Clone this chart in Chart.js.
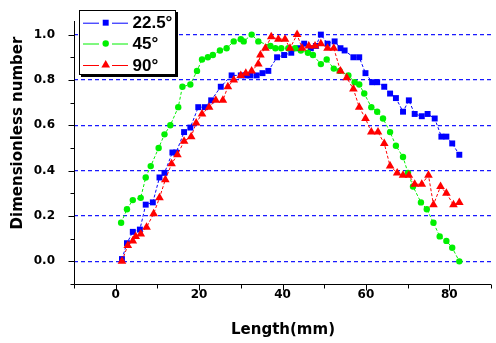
<!DOCTYPE html>
<html>
<head>
<meta charset="utf-8">
<script src="https://cdn.jsdelivr.net/npm/chart.js@4"></script>
<style>
html, body { margin: 0; padding: 0; background: #fff; }
</style>
</head>
<body>
<canvas id="chart" width="496" height="343"></canvas>
<script>
// series: length (mm) and dimensionless number
var seriesNames = ['22.5°', '45°', '90°'];

var len22 = [1.5, 2.7, 4.1, 5.8, 7.2, 8.9, 10.5, 11.7, 13.6, 14.5, 16.4, 17.9, 19.8, 21.4, 22.9, 25.2, 27.8, 30.0, 31.2, 32.3,
  33.8, 35.2, 36.6, 38.7, 40.4, 42.1, 44.0, 45.2, 46.8, 48.0, 49.2, 50.8, 52.5, 53.9, 54.9, 57.0, 58.4, 59.9, 61.5, 62.7,
  64.4, 65.8, 67.2, 68.9, 70.3, 71.7, 73.4, 74.8, 76.5, 78.1, 79.3, 80.7, 82.4];
var num22 = [0.01, 0.08, 0.13, 0.14, 0.25, 0.26, 0.37, 0.39, 0.48, 0.48, 0.57, 0.59, 0.68, 0.68, 0.71, 0.77, 0.82, 0.82, 0.82, 0.82,
  0.82, 0.83, 0.84, 0.90, 0.91, 0.92, 0.94, 0.96, 0.94, 0.95, 1.00, 0.96, 0.97, 0.94, 0.93, 0.90, 0.90, 0.83, 0.79, 0.79,
  0.77, 0.74, 0.72, 0.66, 0.71, 0.65, 0.64, 0.65, 0.63, 0.55, 0.55, 0.52, 0.47];

var len45 = [1.3, 2.7, 4.1, 6.0, 7.2, 8.4, 10.3, 11.7, 13.1, 15.0, 16.0, 17.9, 19.5, 20.7, 22.1, 23.3, 25.0, 26.6, 28.3, 30.0,
  30.7, 32.6, 34.2, 37.1, 38.3, 39.7, 41.4, 43.0, 44.4, 46.1, 47.3, 49.2, 50.6, 52.3, 53.7, 55.8, 57.3, 58.4, 59.6, 61.3,
  62.7, 64.1, 65.8, 67.2, 68.9, 70.1, 71.3, 73.2, 74.6, 76.2, 77.7, 79.3, 80.7, 82.4];
var num45 = [0.17, 0.23, 0.27, 0.28, 0.37, 0.42, 0.50, 0.56, 0.60, 0.68, 0.77, 0.78, 0.84, 0.89, 0.90, 0.91, 0.93, 0.94, 0.97, 0.98,
  0.97, 1.00, 0.97, 0.95, 0.94, 0.94, 0.94, 0.94, 0.93, 0.92, 0.91, 0.87, 0.89, 0.85, 0.84, 0.82, 0.79, 0.78, 0.74, 0.68,
  0.66, 0.63, 0.57, 0.51, 0.46, 0.39, 0.33, 0.26, 0.23, 0.17, 0.11, 0.09, 0.06, 0.0];

var len90 = [1.5, 2.9, 4.1, 4.8, 6.0, 7.4, 9.1, 10.5, 11.9, 13.4, 14.8, 16.4, 18.1, 19.3, 20.7, 22.4, 24.0, 25.7, 26.9, 28.3,
  30.0, 31.2, 32.6, 34.2, 34.7, 35.9, 37.3, 39.0, 40.6, 41.8, 43.5, 44.7, 46.3, 47.8, 49.2, 50.8, 52.3, 53.9, 55.4, 57.0,
  58.4, 59.9, 61.3, 62.9, 64.4, 65.8, 67.5, 68.9, 70.3, 71.7, 73.4, 75.0, 76.2, 77.9, 79.3, 81.0, 82.4];
var num90 = [0.0, 0.07, 0.09, 0.11, 0.12, 0.15, 0.21, 0.28, 0.36, 0.43, 0.47, 0.53, 0.55, 0.61, 0.65, 0.68, 0.71, 0.71, 0.77, 0.80,
  0.82, 0.83, 0.84, 0.87, 0.91, 0.94, 0.99, 0.98, 0.98, 0.94, 1.00, 0.94, 0.95, 0.95, 0.96, 0.94, 0.94, 0.84, 0.81, 0.76,
  0.68, 0.63, 0.57, 0.57, 0.52, 0.42, 0.39, 0.38, 0.38, 0.34, 0.34, 0.38, 0.25, 0.33, 0.30, 0.25, 0.26];

var xLabelTicks = [0, 20, 40, 60, 80];
var yLabelTicks = [0.0, 0.2, 0.4, 0.6, 0.8, 1.0];

var colors = ['#0000ff', '#00f000', '#ff0000'];
var shapes = ['rect', 'circle', 'triangle'];
var radii = [4.2, 3.2, 5.0];

function pts(xs, ys) {
  return xs.map(function (x, i) { return { x: x, y: ys[i] }; });
}

function isLabel(list, v) {
  return list.some(function (t) { return Math.abs(t - v) < 1e-6; });
}

var allData = [pts(len22, num22), pts(len45, num45), pts(len90, num90)];

var datasets = allData.map(function (d, i) {
  return {
    label: seriesNames[i],
    data: d,
    showLine: true,
    borderColor: colors[i],
    backgroundColor: colors[i],
    borderWidth: 1,
    borderDash: [3, 2],
    pointStyle: shapes[i],
    pointRadius: radii[i],
    pointBorderWidth: 0,
    pointBackgroundColor: colors[i],
    order: 2 - i
  };
});

var deco = {
  id: 'deco',
  afterDraw: function (chart) {
    var ctx = chart.ctx, a = chart.chartArea;
    var xs = chart.scales.x, ys = chart.scales.y;
    var L = a.left + 0.5, B = Math.round(a.bottom) + 0.5;
    ctx.save();
    ctx.strokeStyle = '#000';
    ctx.lineWidth = 1;
    ctx.beginPath();
    ctx.moveTo(L, a.top); ctx.lineTo(L, B);
    ctx.moveTo(L, B); ctx.lineTo(a.right, B);
    ys.ticks.forEach(function (t) {
      var p = Math.round(ys.getPixelForValue(t.value)) + 0.5;
      var l = t.label ? 6 : 4;
      ctx.moveTo(L, p); ctx.lineTo(L - l, p);
    });
    xs.ticks.forEach(function (t) {
      var p = Math.round(xs.getPixelForValue(t.value)) + 0.5;
      var l = t.label ? 6 : 4;
      ctx.moveTo(p, B); ctx.lineTo(p, B + l);
    });
    ctx.stroke();

    // axis titles
    ctx.fillStyle = '#000';
    ctx.font = 'bold 15px "DejaVu Sans"';
    ctx.textAlign = 'center';
    ctx.textBaseline = 'middle';
    ctx.fillText('Length(mm)', 283, 330);
    ctx.save();
    ctx.translate(18.5, 133);
    ctx.rotate(-Math.PI / 2);
    ctx.fillText('Dimensionless number', 0, 0);
    ctx.restore();

    // legend box with shadow
    ctx.fillStyle = '#000';
    ctx.fillRect(81, 12, 97, 65);
    ctx.fillStyle = '#fff';
    ctx.fillRect(79, 10, 97, 65);
    ctx.strokeRect(79.5, 10.5, 96, 64);
    var rows = [22.7, 43.5, 65];
    chart.data.datasets.forEach(function (ds, i) {
      var y = rows[i];
      ctx.strokeStyle = ds.borderColor;
      ctx.beginPath();
      ctx.moveTo(83, y + 0.5); ctx.lineTo(99, y + 0.5);
      ctx.moveTo(112, y + 0.5); ctx.lineTo(128, y + 0.5);
      ctx.stroke();
      ctx.fillStyle = ds.backgroundColor;
      Chart.helpers.drawPoint(ctx, { pointStyle: ds.pointStyle, radius: ds.pointRadius, rotation: 0, borderWidth: 0 }, 105.7, y);
      ctx.fillStyle = '#000';
      ctx.font = 'bold 17px "Liberation Sans"';
      ctx.textAlign = 'left';
      ctx.fillText(ds.label, 132.5, y + 1);
    });
    ctx.restore();
  }
};

var tickFont = { family: 'DejaVu Sans', weight: 'bold', size: 12 };

new Chart(document.getElementById('chart'), {
  type: 'scatter',
  data: { datasets: datasets },
  options: {
    responsive: false,
    animation: false,
    layout: { padding: { top: 21, right: 3, left: 0, bottom: 0 } },
    plugins: { legend: { display: false }, tooltip: { enabled: false } },
    scales: {
      x: {
        type: 'linear',
        min: -10,
        max: 90,
        afterBuildTicks: function (s) {
          var t = [];
          for (var i = -1; i <= 9; i++) t.push({ value: i * 10 });
          s.ticks = t;
        },
        afterFit: function (s) { s.height = 59; },
        grid: { display: false, drawTicks: false },
        border: { display: false },
        ticks: {
          autoSkip: false,
          maxRotation: 0,
          padding: 4,
          color: '#000',
          font: tickFont,
          callback: function (v) { return isLabel(xLabelTicks, v) ? String(v) : ''; }
        }
      },
      y: {
        type: 'linear',
        min: -0.1,
        max: 1.06,
        afterBuildTicks: function (s) {
          var t = [];
          for (var i = -1; i <= 10; i++) t.push({ value: i / 10 });
          s.ticks = t;
        },
        afterFit: function (s) { s.width = 74; },
        grid: {
          drawTicks: true,
          tickLength: 19,
          tickColor: 'rgba(0,0,0,0)',
          lineWidth: 1.2,
          color: function (c) {
            return c.tick && isLabel(yLabelTicks, c.tick.value) ? '#1a1aff' : 'rgba(0,0,0,0)';
          }
        },
        border: { display: false, dash: [4, 3] },
        ticks: {
          autoSkip: false,
          padding: 0,
          color: '#000',
          font: tickFont,
          callback: function (v) { return isLabel(yLabelTicks, v) ? v.toFixed(1) : ''; }
        }
      }
    }
  },
  plugins: [deco]
});
</script>
</body>
</html>
